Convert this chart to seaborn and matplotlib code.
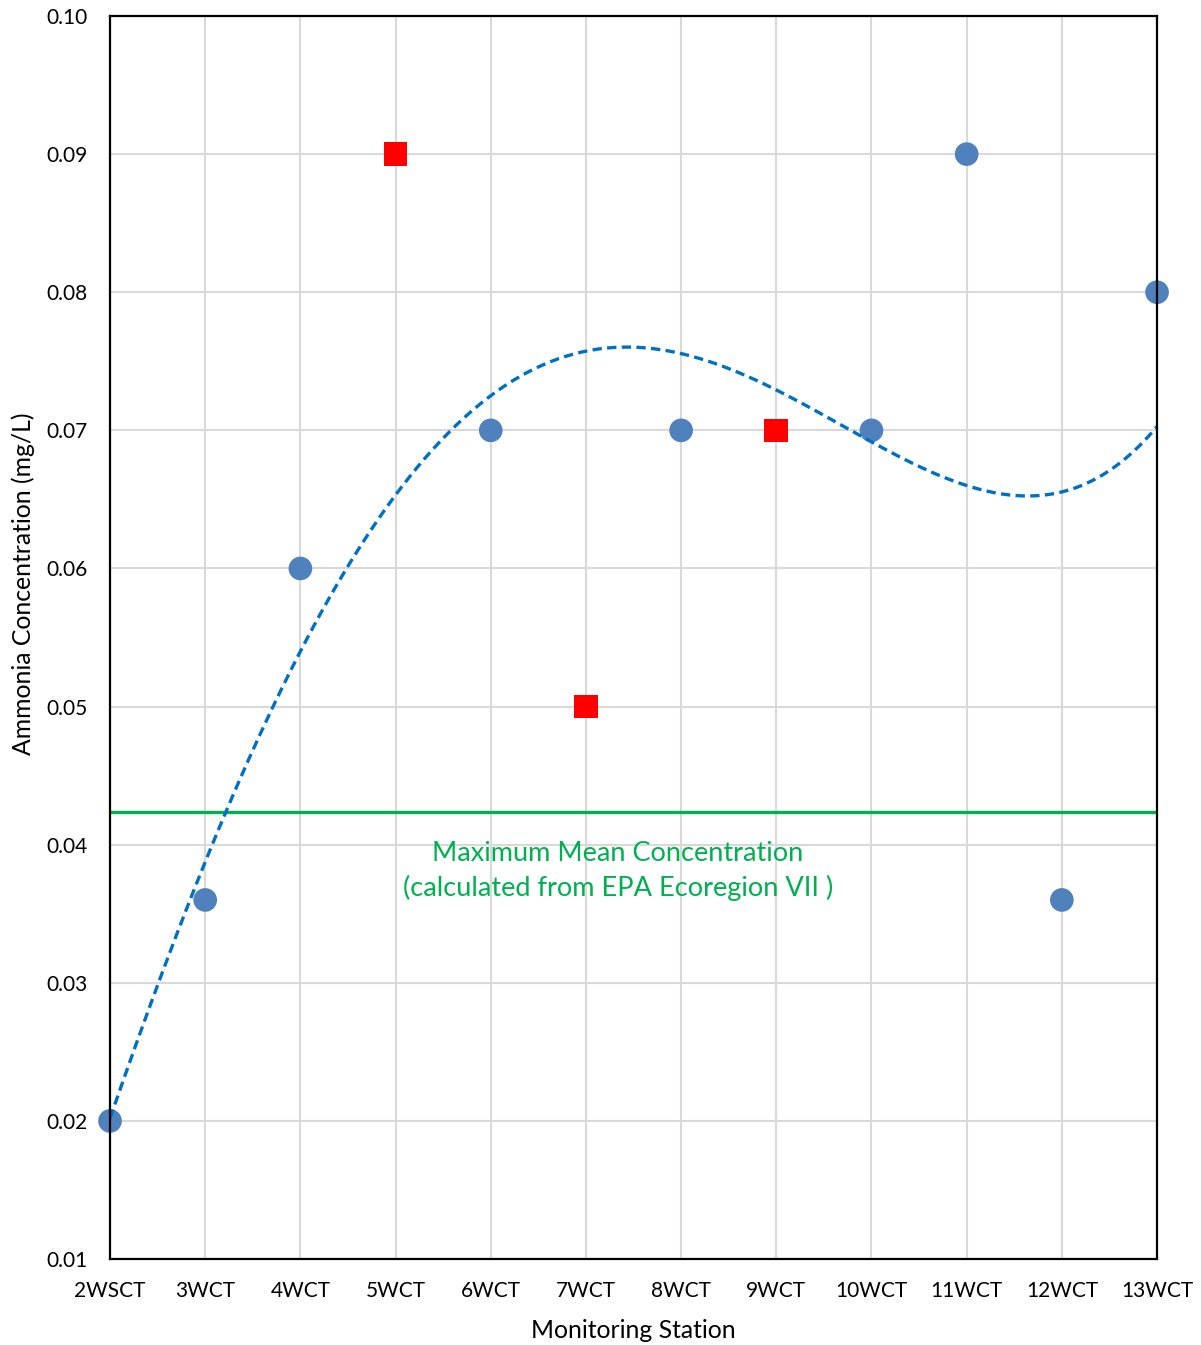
import numpy as np
import pandas as pd
import matplotlib
matplotlib.use("Agg")
import matplotlib.pyplot as plt
import seaborn as sns

stations = ["2WSCT","3WCT","4WCT","5WCT","6WCT","7WCT","8WCT","9WCT","10WCT","11WCT","12WCT","13WCT"]
values = [0.02,0.036,0.06,0.09,0.07,0.05,0.07,0.07,0.07,0.09,0.036,0.08]
flagged = [False,False,False,True,False,True,False,True,False,False,False,False]
max_mean_conc = 0.0424
trend_order = 4
y_ticks = [0.01,0.02,0.03,0.04,0.05,0.06,0.07,0.08,0.09,0.10]

sns.set_theme(style="white")
plt.rcParams['font.family'] = ['Lato', 'DejaVu Sans']

df = pd.DataFrame({"station": stations, "value": values, "flag": flagged})
df["pos"] = np.arange(len(df))

fig = plt.figure(figsize=(12.01, 13.45), dpi=100)
ax = fig.add_axes([0.0916, 0.0639, 0.8718, 0.9242])

# grid
for xv in df["pos"]:
    ax.axvline(xv, color="#D9D9D9", lw=1.5, zorder=0)
for yv in y_ticks:
    ax.axhline(yv, color="#D9D9D9", lw=1.5, zorder=0)

# threshold line
ax.axhline(max_mean_conc, color="#00B050", lw=2.4, zorder=2)
ax.text(5.337, 0.0381, "Maximum Mean Concentration\n(calculated from EPA Ecoregion VII )",
        color="#00B050", fontsize=19.5, ha="center", va="center", linespacing=1.45, zorder=3)

blue_df = df[~df["flag"]]
red_df = df[df["flag"]]
sns.scatterplot(data=blue_df, x="pos", y="value", ax=ax, marker="o", s=290,
                color="#4F81BD", edgecolor="none", zorder=4, clip_on=False)
sns.scatterplot(data=red_df, x="pos", y="value", ax=ax, marker="s", s=290,
                color="#FF0000", edgecolor="none", zorder=4, clip_on=False)

# polynomial trendline of the circle series
coef = np.polyfit(blue_df["pos"] + 1, blue_df["value"], trend_order)
xx = np.linspace(0, len(stations) - 1, 400)
ax.plot(xx, np.polyval(coef, xx + 1), color="#0070C0", lw=2.4, dashes=(2.8, 1.6), zorder=5)

ax.set_xlim(0, len(stations) - 1)
ax.set_ylim(0.01, 0.10)
ax.set_xticks(df["pos"])
ax.set_xticklabels(stations)
ax.set_yticks(y_ticks)
ax.set_yticklabels([f"{v:.2f}" for v in y_ticks])
ax.tick_params(axis="both", length=0, labelsize=15, colors="black")
ax.tick_params(axis="y", pad=16)
ax.tick_params(axis="x", pad=16)
ax.set_xlabel("Monitoring Station", fontsize=17.8, labelpad=13, color="black")
ax.set_ylabel("Ammonia Concentration (mg/L)", fontsize=17.8, color="black")
ax.yaxis.set_label_coords(-0.072, 0.543)
for sp in ax.spines.values():
    sp.set_color("black")
    sp.set_linewidth(1.6)
    sp.set_zorder(6)

fig.savefig("out.png", dpi=100)
